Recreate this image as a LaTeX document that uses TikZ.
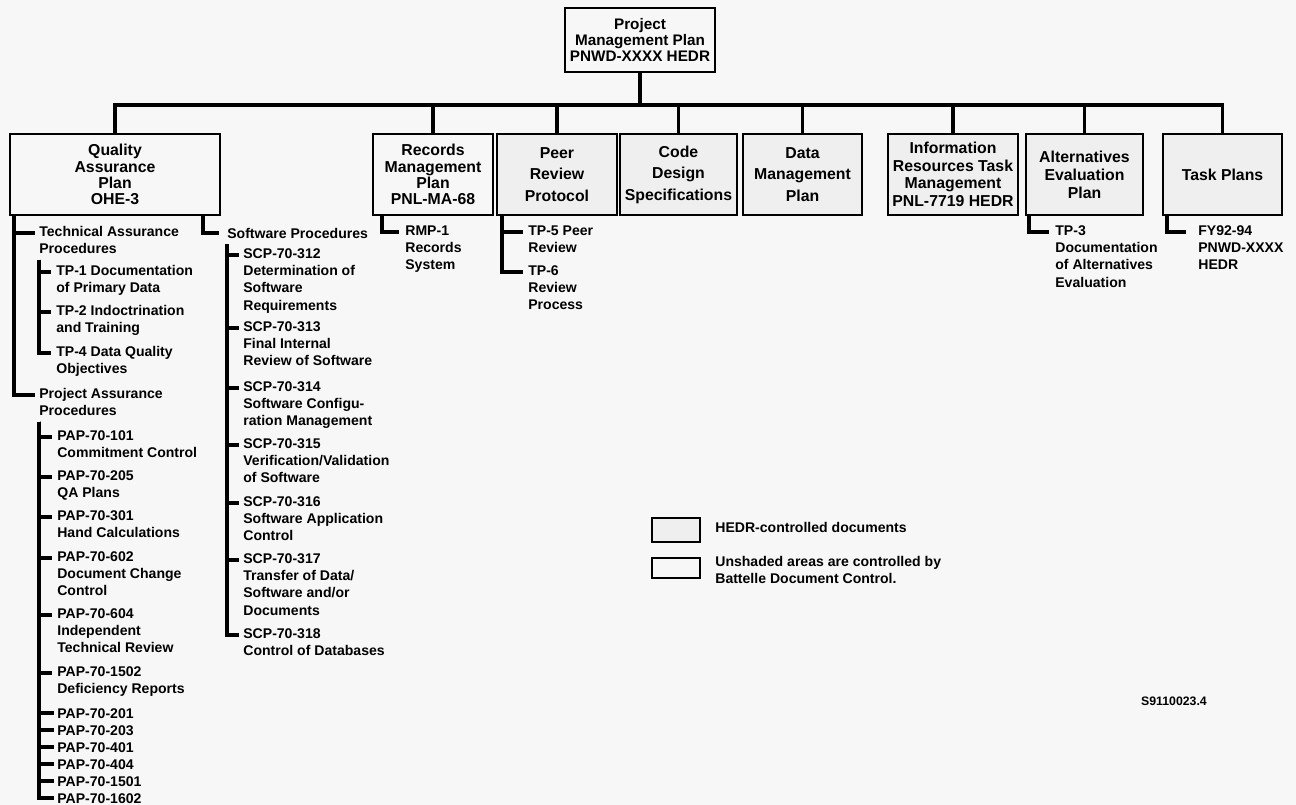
\documentclass[tikz,border=0pt]{standalone}
\usepackage{fontspec}
\setmainfont{Liberation Sans}
\usetikzlibrary{calc}
\definecolor{pagebg}{RGB}{247,247,247}
\definecolor{hedrgray}{RGB}{239,239,239}
\newcommand{\itemfont}{\bfseries\fontsize{8}{9.9}\selectfont}
\newcommand{\boxfont}{\bfseries\fontsize{9}{9.2}\selectfont}
\newcommand{\airyfont}{\bfseries\fontsize{9}{12.2}\selectfont}
\tikzset{
docbox/.style={draw=black, line width=1.3pt, align=center, inner sep=1pt, font=\boxfont},
hedrbox/.style={docbox, fill=hedrgray},
itemtext/.style={anchor=north west, align=left, inner sep=0pt, font=\itemfont, execute at begin node=\strut},
busline/.style={line width=2pt},
bracket/.style={line width=2pt},
}

\begin{document}
\begin{tikzpicture}[x=0.02cm, y=-0.02cm]
\fill[pagebg] (0,0) rectangle (1296,805);
\useasboundingbox (0,0) rectangle (1296,805);

% top of the tree
\node[docbox, minimum width=3cm, minimum height=1.28cm, font=\bfseries\fontsize{8.7}{9.1}\selectfont] at (640,40) (pmp) {Project\\Management Plan\\PNWD-XXXX HEDR};
\coordinate (bus) at (640,105);

% second row of documents
\node[docbox, minimum width=4.2cm, minimum height=1.62cm] at (115,174.5) (qa) {Quality\\Assurance\\Plan\\OHE-3};
\node[docbox, minimum width=2.4cm, minimum height=1.62cm] at (433,174.5) (rmp) {Records\\Management\\Plan\\PNL-MA-68};
\node[hedrbox, minimum width=2.4cm, minimum height=1.62cm, font=\airyfont] at (557,174.5) (prp) {Peer\\Review\\Protocol};
\node[hedrbox, minimum width=2.34cm, minimum height=1.62cm, font=\airyfont] at (678.5,174.5) (cds) {Code\\Design\\Specifications};
\node[hedrbox, minimum width=2.38cm, minimum height=1.62cm, font=\airyfont] at (802.5,174.5) (dmp) {Data\\Management\\Plan};
\node[hedrbox, minimum width=2.6cm, minimum height=1.62cm, font=\bfseries\fontsize{9}{10}\selectfont] at (953,174.5) (irm) {Information\\Resources Task\\Management\\PNL-7719 HEDR};
\node[hedrbox, minimum width=2.34cm, minimum height=1.62cm, font=\bfseries\fontsize{9}{10.2}\selectfont] at (1084.5,174.5) (aep) {Alternatives\\Evaluation\\Plan};
\node[hedrbox, minimum width=2.38cm, minimum height=1.62cm] at (1222.5,174.5) (tsk) {Task Plans};

\draw[busline] (pmp.south) -- (bus);
\draw[busline] (qa.north) |- (bus) -| (tsk.north);
\draw[busline] (rmp.north) -- (rmp.north |- bus);
\draw[busline] (prp.north) -- (prp.north |- bus);
\draw[busline] (cds.north) -- (cds.north |- bus);
\draw[busline] (dmp.north) -- (dmp.north |- bus);
\draw[busline] (irm.north) -- (irm.north |- bus);
\draw[busline] (aep.north) -- (aep.north |- bus);

% quality assurance plan
\node[itemtext] at (39,226) (ta) {Technical Assurance\\Procedures};
\node[itemtext] at (56,265) (tp1) {TP-1 Documentation\\of Primary Data};
\node[itemtext] at (56,305) (tp2) {TP-2 Indoctrination\\and Training};
\node[itemtext] at (56,346) (tp4) {TP-4 Data Quality\\Objectives};
\node[itemtext] at (39,388) (pa) {Project Assurance\\Procedures};
\node[itemtext] at (57,430) (pap101) {PAP-70-101\\Commitment Control};
\node[itemtext] at (57,470) (pap205) {PAP-70-205\\QA Plans};
\node[itemtext] at (57,510) (pap301) {PAP-70-301\\Hand Calculations};
\node[itemtext] at (57,551) (pap602) {PAP-70-602\\Document Change\\Control};
\node[itemtext] at (57,608) (pap604) {PAP-70-604\\Independent\\Technical Review};
\node[itemtext] at (57,666) (pap1502) {PAP-70-1502\\Deficiency Reports};
\node[itemtext] at (57,706) (pap201) {PAP-70-201};
\node[itemtext] at (57,723) (pap203) {PAP-70-203};
\node[itemtext] at (57,740) (pap401) {PAP-70-401};
\node[itemtext] at (57,757) (pap404) {PAP-70-404};
\node[itemtext] at (57,774) (pap1501) {PAP-70-1501};
\node[itemtext] at (57,791) (pap1602) {PAP-70-1602};

\draw[bracket] ($(qa.south west)+(5,0)$) |- ($(ta.north west)+(-4,7)$);
\draw[bracket] ($(qa.south west)+(5,0)$) |- ($(pa.north west)+(-4,7)$);
\draw[bracket] (ta.south west) |- ($(tp1.north west)+(-5,7)$);
\draw[bracket] (ta.south west) |- ($(tp2.north west)+(-5,7)$);
\draw[bracket] (ta.south west) |- ($(tp4.north west)+(-5,7)$);
\draw[bracket] (pa.south west) |- ($(pap101.north west)+(-5,7)$);
\draw[bracket] (pa.south west) |- ($(pap205.north west)+(-5,7)$);
\draw[bracket] (pa.south west) |- ($(pap301.north west)+(-5,7)$);
\draw[bracket] (pa.south west) |- ($(pap602.north west)+(-5,7)$);
\draw[bracket] (pa.south west) |- ($(pap604.north west)+(-5,7)$);
\draw[bracket] (pa.south west) |- ($(pap1502.north west)+(-5,7)$);
\draw[bracket] (pa.south west) |- ($(pap201.north west)+(-3,7)$);
\draw[bracket] (pa.south west) |- ($(pap203.north west)+(-3,7)$);
\draw[bracket] (pa.south west) |- ($(pap401.north west)+(-3,7)$);
\draw[bracket] (pa.south west) |- ($(pap404.north west)+(-3,7)$);
\draw[bracket] (pa.south west) |- ($(pap1501.north west)+(-3,7)$);
\draw[bracket] (pa.south west) |- ($(pap1602.north west)+(-3,7)$);

% software procedures
\node[itemtext] at (227,226) (sp) {Software Procedures};
\node[itemtext] at (243,248) (scp312) {SCP-70-312\\Determination of\\Software\\Requirements};
\node[itemtext] at (243,321) (scp313) {SCP-70-313\\Final Internal\\Review of Software};
\node[itemtext] at (243,381) (scp314) {SCP-70-314\\Software Configu-\\ration Management};
\node[itemtext] at (243,438) (scp315) {SCP-70-315\\Verification/Validation\\of Software};
\node[itemtext] at (243,496) (scp316) {SCP-70-316\\Software Application\\Control};
\node[itemtext] at (243,553) (scp317) {SCP-70-317\\Transfer of Data/\\Software and/or\\Documents};
\node[itemtext] at (243,628) (scp318) {SCP-70-318\\Control of Databases};

\draw[bracket] ($(qa.south east)+(-18,0)$) |- ($(sp.north west)+(-8,7)$);
\draw[bracket] (sp.south west) |- ($(scp312.north west)+(-4,7)$);
\draw[bracket] (sp.south west) |- ($(scp313.north west)+(-4,7)$);
\draw[bracket] (sp.south west) |- ($(scp314.north west)+(-4,7)$);
\draw[bracket] (sp.south west) |- ($(scp315.north west)+(-4,7)$);
\draw[bracket] (sp.south west) |- ($(scp316.north west)+(-4,7)$);
\draw[bracket] (sp.south west) |- ($(scp317.north west)+(-4,7)$);
\draw[bracket] (sp.south west) |- ($(scp318.north west)+(-4,7)$);

% the other plans
\node[itemtext] at (405,225) (rmp1) {RMP-1\\Records\\System};
\node[itemtext] at (528,225) (tp5) {TP-5 Peer\\Review};
\node[itemtext] at (528,265) (tp6) {TP-6\\Review\\Process};
\node[itemtext] at (1055,225) (tp3) {TP-3\\Documentation\\of Alternatives\\Evaluation};
\node[itemtext] at (1198,225) (fy) {FY92-94\\PNWD-XXXX\\HEDR};

\draw[bracket] ($(rmp.south west)+(10,0)$) |- ($(rmp1.north west)+(-6,7)$);
\draw[bracket] ($(prp.south west)+(6,0)$) |- ($(tp5.north west)+(-5,7)$);
\draw[bracket] ($(prp.south west)+(6,0)$) |- ($(tp6.north west)+(-5,7)$);
\draw[bracket] ($(aep.south west)+(4,0)$) |- ($(tp3.north west)+(-6,7)$);
\draw[bracket] ($(tsk.south west)+(5,0)$) |- ($(fy.north west)+(-12,7)$);

% key
\node[hedrbox, minimum width=0.96cm, minimum height=0.48cm, inner sep=0pt] at (676,530) (keyhedr) {};
\node[docbox, minimum width=0.96cm, minimum height=0.40cm, inner sep=0pt] at (676,568) (keyplain) {};
\node[anchor=west, inner sep=0pt, font=\itemfont] at (715,527) (keyhedrtext) {HEDR-controlled documents};
\node[anchor=west, align=left, inner sep=0pt, font=\itemfont] at (715,570) (keyplaintext) {Unshaded areas are controlled by\\Battelle Document Control.};

\node[inner sep=0pt, font=\bfseries\fontsize{7}{8}\selectfont] at (1174,701) (fignum) {S9110023.4};
\end{tikzpicture}
\end{document}
